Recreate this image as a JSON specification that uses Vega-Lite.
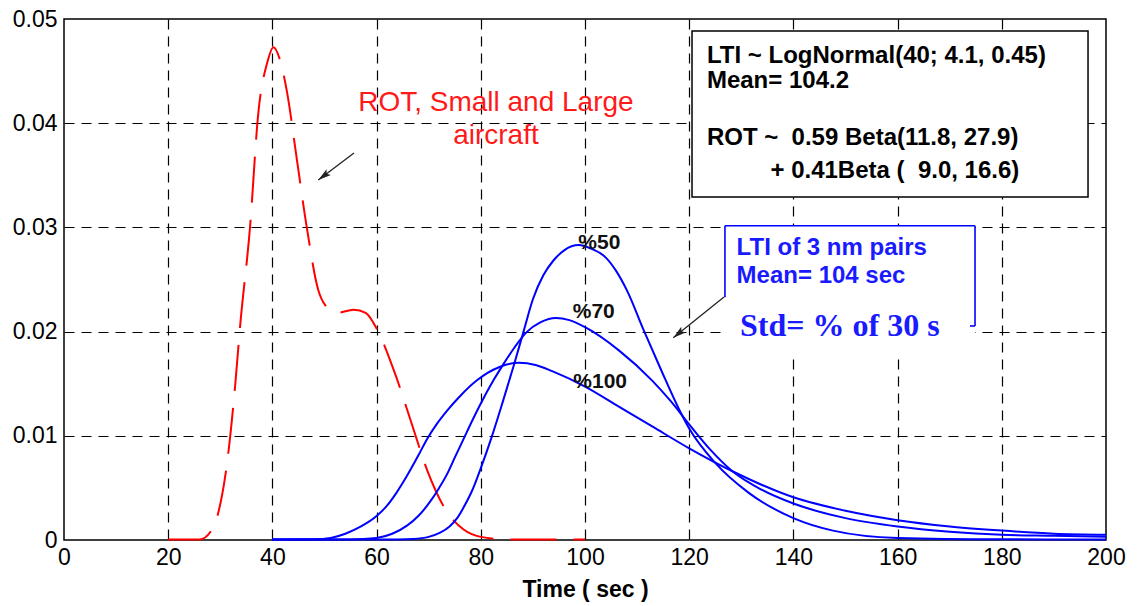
{
  "$schema": "https://vega.github.io/schema/vega-lite/v6.json",
  "width": 1042,
  "height": 521,
  "autosize": {"type": "none"},
  "padding": {"left": 64, "top": 19, "right": 35, "bottom": 66},
  "background": "white",
  "config": {
    "view": {"stroke": null},
    "font": "Liberation Sans"
  },
  "datasets": {
    "curves": [
      {"series": "ROT", "t": 20, "v": 0.00005},
      {"series": "ROT", "t": 26, "v": 0.00005},
      {"series": "ROT", "t": 28.4, "v": 0.001},
      {"series": "ROT", "t": 29.6, "v": 0.0026},
      {"series": "ROT", "t": 31.3, "v": 0.0074},
      {"series": "ROT", "t": 32.9, "v": 0.0151},
      {"series": "ROT", "t": 33.8, "v": 0.0205},
      {"series": "ROT", "t": 35.7, "v": 0.030},
      {"series": "ROT", "t": 37.3, "v": 0.041},
      {"series": "ROT", "t": 39, "v": 0.0458},
      {"series": "ROT", "t": 40.2, "v": 0.0473},
      {"series": "ROT", "t": 41.5, "v": 0.046},
      {"series": "ROT", "t": 42.8, "v": 0.043},
      {"series": "ROT", "t": 44.7, "v": 0.0365},
      {"series": "ROT", "t": 46.6, "v": 0.030},
      {"series": "ROT", "t": 48.8, "v": 0.024},
      {"series": "ROT", "t": 50.2, "v": 0.0225},
      {"series": "ROT", "t": 52.4, "v": 0.0218},
      {"series": "ROT", "t": 55.6, "v": 0.0221},
      {"series": "ROT", "t": 57.9, "v": 0.0218},
      {"series": "ROT", "t": 60, "v": 0.0203},
      {"series": "ROT", "t": 63.3, "v": 0.0163},
      {"series": "ROT", "t": 67.1, "v": 0.0106},
      {"series": "ROT", "t": 69.7, "v": 0.0067},
      {"series": "ROT", "t": 72.9, "v": 0.0032},
      {"series": "ROT", "t": 76.7, "v": 0.001},
      {"series": "ROT", "t": 80, "v": 0.0003},
      {"series": "ROT", "t": 85, "v": 0.00005},
      {"series": "ROT", "t": 100, "v": 0.00005},

      {"series": "p50", "t": 40, "v": 0.00005},
      {"series": "p50", "t": 60, "v": 0.00005},
      {"series": "p50", "t": 64, "v": 0.00006},
      {"series": "p50", "t": 67, "v": 0.0001},
      {"series": "p50", "t": 70, "v": 0.0003},
      {"series": "p50", "t": 72.2, "v": 0.0007},
      {"series": "p50", "t": 74, "v": 0.0013},
      {"series": "p50", "t": 75.6, "v": 0.0022},
      {"series": "p50", "t": 77, "v": 0.0034},
      {"series": "p50", "t": 78.3, "v": 0.0047},
      {"series": "p50", "t": 80, "v": 0.0069},
      {"series": "p50", "t": 82.1, "v": 0.0099},
      {"series": "p50", "t": 84.3, "v": 0.0134},
      {"series": "p50", "t": 86.3, "v": 0.0167},
      {"series": "p50", "t": 88.2, "v": 0.0200},
      {"series": "p50", "t": 90, "v": 0.0231},
      {"series": "p50", "t": 92, "v": 0.0254},
      {"series": "p50", "t": 93.9, "v": 0.0268},
      {"series": "p50", "t": 96, "v": 0.0278},
      {"series": "p50", "t": 98.8, "v": 0.0283},
      {"series": "p50", "t": 101, "v": 0.0280},
      {"series": "p50", "t": 104, "v": 0.0271},
      {"series": "p50", "t": 106, "v": 0.0258},
      {"series": "p50", "t": 108, "v": 0.0240},
      {"series": "p50", "t": 111.3, "v": 0.0201},
      {"series": "p50", "t": 114.8, "v": 0.0161},
      {"series": "p50", "t": 118, "v": 0.0126},
      {"series": "p50", "t": 120, "v": 0.0107},
      {"series": "p50", "t": 125, "v": 0.0074},
      {"series": "p50", "t": 131.5, "v": 0.0045},
      {"series": "p50", "t": 140, "v": 0.0021},
      {"series": "p50", "t": 147.6, "v": 0.0009},
      {"series": "p50", "t": 160, "v": 0.0002},
      {"series": "p50", "t": 180, "v": 0.00007},
      {"series": "p50", "t": 200, "v": 0.00005},

      {"series": "p70", "t": 40, "v": 0.00005},
      {"series": "p70", "t": 55, "v": 0.00006},
      {"series": "p70", "t": 60, "v": 0.0002},
      {"series": "p70", "t": 63, "v": 0.0006},
      {"series": "p70", "t": 65.9, "v": 0.0014},
      {"series": "p70", "t": 68, "v": 0.0023},
      {"series": "p70", "t": 70.3, "v": 0.0037},
      {"series": "p70", "t": 72, "v": 0.0050},
      {"series": "p70", "t": 73.5, "v": 0.0063},
      {"series": "p70", "t": 75, "v": 0.0079},
      {"series": "p70", "t": 76.7, "v": 0.0097},
      {"series": "p70", "t": 78.3, "v": 0.0114},
      {"series": "p70", "t": 80, "v": 0.0131},
      {"series": "p70", "t": 82.4, "v": 0.0153},
      {"series": "p70", "t": 84.5, "v": 0.0170},
      {"series": "p70", "t": 86.5, "v": 0.0185},
      {"series": "p70", "t": 88.7, "v": 0.0199},
      {"series": "p70", "t": 91.5, "v": 0.0209},
      {"series": "p70", "t": 94.4, "v": 0.0213},
      {"series": "p70", "t": 97, "v": 0.0211},
      {"series": "p70", "t": 100.1, "v": 0.0204},
      {"series": "p70", "t": 106.5, "v": 0.0182},
      {"series": "p70", "t": 112.9, "v": 0.0153},
      {"series": "p70", "t": 116.5, "v": 0.0133},
      {"series": "p70", "t": 120, "v": 0.0111},
      {"series": "p70", "t": 124, "v": 0.0087},
      {"series": "p70", "t": 128.3, "v": 0.0066},
      {"series": "p70", "t": 134, "v": 0.0048},
      {"series": "p70", "t": 140, "v": 0.0035},
      {"series": "p70", "t": 150, "v": 0.0021},
      {"series": "p70", "t": 160, "v": 0.0013},
      {"series": "p70", "t": 170, "v": 0.0008},
      {"series": "p70", "t": 180, "v": 0.0005},
      {"series": "p70", "t": 190, "v": 0.0004},
      {"series": "p70", "t": 200, "v": 0.0003},

      {"series": "p100", "t": 40, "v": 0.00005},
      {"series": "p100", "t": 48, "v": 0.00007},
      {"series": "p100", "t": 51.2, "v": 0.0002},
      {"series": "p100", "t": 54, "v": 0.0006},
      {"series": "p100", "t": 57, "v": 0.0013},
      {"series": "p100", "t": 60, "v": 0.0023},
      {"series": "p100", "t": 62, "v": 0.0033},
      {"series": "p100", "t": 63.9, "v": 0.0046},
      {"series": "p100", "t": 66, "v": 0.0063},
      {"series": "p100", "t": 68, "v": 0.0081},
      {"series": "p100", "t": 69.7, "v": 0.0097},
      {"series": "p100", "t": 71.5, "v": 0.0111},
      {"series": "p100", "t": 73.5, "v": 0.0124},
      {"series": "p100", "t": 76, "v": 0.0138},
      {"series": "p100", "t": 79.2, "v": 0.0153},
      {"series": "p100", "t": 83.6, "v": 0.0166},
      {"series": "p100", "t": 87.3, "v": 0.0170},
      {"series": "p100", "t": 90.5, "v": 0.0168},
      {"series": "p100", "t": 93.7, "v": 0.0162},
      {"series": "p100", "t": 100.1, "v": 0.0147},
      {"series": "p100", "t": 106.5, "v": 0.0128},
      {"series": "p100", "t": 112.9, "v": 0.0109},
      {"series": "p100", "t": 120, "v": 0.0088},
      {"series": "p100", "t": 128.3, "v": 0.0066},
      {"series": "p100", "t": 140, "v": 0.0041},
      {"series": "p100", "t": 150, "v": 0.0028},
      {"series": "p100", "t": 160, "v": 0.0019},
      {"series": "p100", "t": 170, "v": 0.0013},
      {"series": "p100", "t": 180, "v": 0.0009},
      {"series": "p100", "t": 190, "v": 0.0006},
      {"series": "p100", "t": 200, "v": 0.0005}
    ]
  },
  "encoding": {
    "x": {
      "field": "t", "type": "quantitative",
      "scale": {"domain": [0, 200], "nice": false, "zero": false},
      "axis": {
        "title": "Time ( sec )",
        "values": [0, 20, 40, 60, 80, 100, 120, 140, 160, 180, 200],
        "zindex": 0,
        "grid": true, "gridColor": "black", "gridDash": [10, 7], "gridWidth": 1.2,
        "gridOpacity": {"condition": {"test": "datum.value === 0 || datum.value === 200", "value": 0}, "value": 1},
        "domain": false,
        "ticks": false, "tickSize": 0,
        "labelFont": "Liberation Sans", "labelFontSize": 23, "labelColor": "black",
        "labelPadding": 6, "labelFlush": false, "labelOverlap": false,
        "titleFont": "Liberation Sans", "titleFontSize": 23, "titleFontWeight": "bold", "titleColor": "black",
        "titlePadding": 9
      }
    },
    "y": {
      "field": "v", "type": "quantitative",
      "scale": {"domain": [0, 0.05], "nice": false, "zero": false},
      "axis": {
        "title": null,
        "values": [0, 0.01, 0.02, 0.03, 0.04, 0.05],
        "zindex": 0,
        "labelExpr": "datum.value === 0 ? '0' : format(datum.value, '.2f')",
        "grid": true, "gridColor": "black", "gridDash": [10, 7], "gridWidth": 1.2,
        "gridOpacity": {"condition": {"test": "datum.value < 0.001 || datum.value > 0.049", "value": 0}, "value": 1},
        "domain": false,
        "ticks": false, "tickSize": 0,
        "labelFont": "Liberation Sans", "labelFontSize": 23, "labelColor": "black",
        "labelPadding": 7, "labelOverlap": false, "labelFlush": false
      }
    }
  },
  "layer": [
    {
      "data": {"values": [{"x1": 0, "x2": 200, "y1": 0, "y2": 0.05}]},
      "mark": {"type": "rect", "fill": null, "fillOpacity": 0, "stroke": "black", "strokeWidth": 1.5, "clip": false},
      "encoding": {
        "x": {"field": "x1", "type": "quantitative"},
        "x2": {"field": "x2"},
        "y": {"field": "y1", "type": "quantitative"},
        "y2": {"field": "y2"}
      }
    },
    {
      "data": {"name": "curves"},
      "transform": [{"filter": "datum.series === 'ROT'"}],
      "mark": {"type": "line", "color": "#ff0000", "strokeWidth": 2, "strokeDash": [46, 17], "interpolate": "monotone", "clip": false}
    },
    {
      "data": {"name": "curves"},
      "transform": [{"filter": "datum.series !== 'ROT'"}],
      "mark": {"type": "line", "color": "#0000ff", "strokeWidth": 2, "interpolate": "monotone", "clip": false},
      "encoding": {"detail": {"field": "series", "type": "nominal"}}
    },
    {
      "data": {"values": [{"x1": 120.54, "x2": 196.55, "y1": 0.04885, "y2": 0.03292}]},
      "mark": {"type": "rect", "fill": "white", "stroke": "black", "strokeWidth": 1.5},
      "encoding": {
        "x": {"field": "x1", "type": "quantitative"},
        "x2": {"field": "x2"},
        "y": {"field": "y1", "type": "quantitative"},
        "y2": {"field": "y2"}
      }
    },
    {
      "data": {"values": [{"x1": 126.86, "x2": 174.86, "y1": 0.03016, "y2": 0.0179}]},
      "mark": {"type": "rect", "fill": "white", "strokeWidth": 0},
      "encoding": {
        "x": {"field": "x1", "type": "quantitative"},
        "x2": {"field": "x2"},
        "y": {"field": "y1", "type": "quantitative"},
        "y2": {"field": "y2"}
      }
    },
    {
      "data": {"values": [
        {"x1": 126.86, "x2": 174.86, "y1": 0.03016, "y2": 0.03016},
        {"x1": 126.86, "x2": 126.86, "y1": 0.03016, "y2": 0.02329},
        {"x1": 174.86, "x2": 174.86, "y1": 0.03016, "y2": 0.02054},
        {"x1": 173.9, "x2": 174.86, "y1": 0.02054, "y2": 0.02054}
      ]},
      "mark": {"type": "rule", "color": "#0000ff", "strokeWidth": 1.6},
      "encoding": {
        "x": {"field": "x1", "type": "quantitative"},
        "x2": {"field": "x2"},
        "y": {"field": "y1", "type": "quantitative"},
        "y2": {"field": "y2"}
      }
    },
    {
      "data": {"values": [
        {"x": 123.4, "y": 0.04648, "label": "LTI ~ LogNormal(40; 4.1, 0.45)"},
        {"x": 123.4, "y": 0.04408, "label": "Mean= 104.2"},
        {"x": 123.4, "y": 0.03855, "label": "ROT ~\u00a0 0.59 Beta(11.8, 27.9)"},
        {"x": 135.6, "y": 0.03544, "label": "+ 0.41Beta (\u00a0 9.0, 16.6)"}
      ]},
      "mark": {"type": "text", "align": "left", "baseline": "middle", "font": "Liberation Sans", "fontSize": 24, "fontWeight": "bold", "color": "black"},
      "encoding": {
        "x": {"field": "x", "type": "quantitative"},
        "y": {"field": "y", "type": "quantitative"},
        "text": {"field": "label"}
      }
    },
    {
      "data": {"values": [
        {"x": 129.1, "y": 0.02799, "label": "LTI of 3 nm pairs"},
        {"x": 129.1, "y": 0.02531, "label": "Mean= 104 sec"}
      ]},
      "mark": {"type": "text", "align": "left", "baseline": "middle", "font": "Liberation Sans", "fontSize": 24, "fontWeight": "bold", "color": "#1a1aff"},
      "encoding": {
        "x": {"field": "x", "type": "quantitative"},
        "y": {"field": "y", "type": "quantitative"},
        "text": {"field": "label"}
      }
    },
    {
      "data": {"values": [{"x": 129.75, "y": 0.02051, "label": "Std= % of 30 s"}]},
      "mark": {"type": "text", "align": "left", "baseline": "middle", "font": "Liberation Serif", "fontSize": 32, "fontWeight": "bold", "color": "#1a1aff"},
      "encoding": {
        "x": {"field": "x", "type": "quantitative"},
        "y": {"field": "y", "type": "quantitative"},
        "text": {"field": "label"}
      }
    },
    {
      "data": {"values": [
        {"x": 82.9, "y": 0.04194, "label": "ROT, Small and Large"},
        {"x": 82.9, "y": 0.0388, "label": "aircraft"}
      ]},
      "mark": {"type": "text", "align": "center", "baseline": "middle", "font": "Liberation Sans", "fontSize": 28, "color": "#ff1a1a"},
      "encoding": {
        "x": {"field": "x", "type": "quantitative"},
        "y": {"field": "y", "type": "quantitative"},
        "text": {"field": "label"}
      }
    },
    {
      "data": {"values": [
        {"x": 98.72, "y": 0.02847, "label": "%50"},
        {"x": 97.64, "y": 0.02191, "label": "%70"},
        {"x": 97.75, "y": 0.01519, "label": "%100"}
      ]},
      "mark": {"type": "text", "align": "left", "baseline": "middle", "font": "Liberation Sans", "fontSize": 21, "fontWeight": "bold", "color": "#111111"},
      "encoding": {
        "x": {"field": "x", "type": "quantitative"},
        "y": {"field": "y", "type": "quantitative"},
        "text": {"field": "label"}
      }
    },
    {
      "data": {"values": [
        {"x1": 55.66, "y1": 0.03714, "x2": 48.81, "y2": 0.03455},
        {"x1": 126.68, "y1": 0.02332, "x2": 116.95, "y2": 0.01941}
      ]},
      "mark": {"type": "rule", "color": "#222222", "strokeWidth": 1.3},
      "encoding": {
        "x": {"field": "x1", "type": "quantitative"},
        "x2": {"field": "x2"},
        "y": {"field": "y1", "type": "quantitative"},
        "y2": {"field": "y2"}
      }
    },
    {
      "data": {"values": [
        {"x": 48.81, "y": 0.03455, "ang": 232.9},
        {"x": 116.95, "y": 0.01941, "ang": 231.3}
      ]},
      "mark": {"type": "point", "shape": "M0,0L-0.55,2L0,1.6L0.55,2Z", "filled": true, "color": "#222222", "size": 170, "opacity": 1},
      "encoding": {
        "x": {"field": "x", "type": "quantitative"},
        "y": {"field": "y", "type": "quantitative"},
        "angle": {"field": "ang", "type": "quantitative", "scale": null}
      }
    }
  ]
}
